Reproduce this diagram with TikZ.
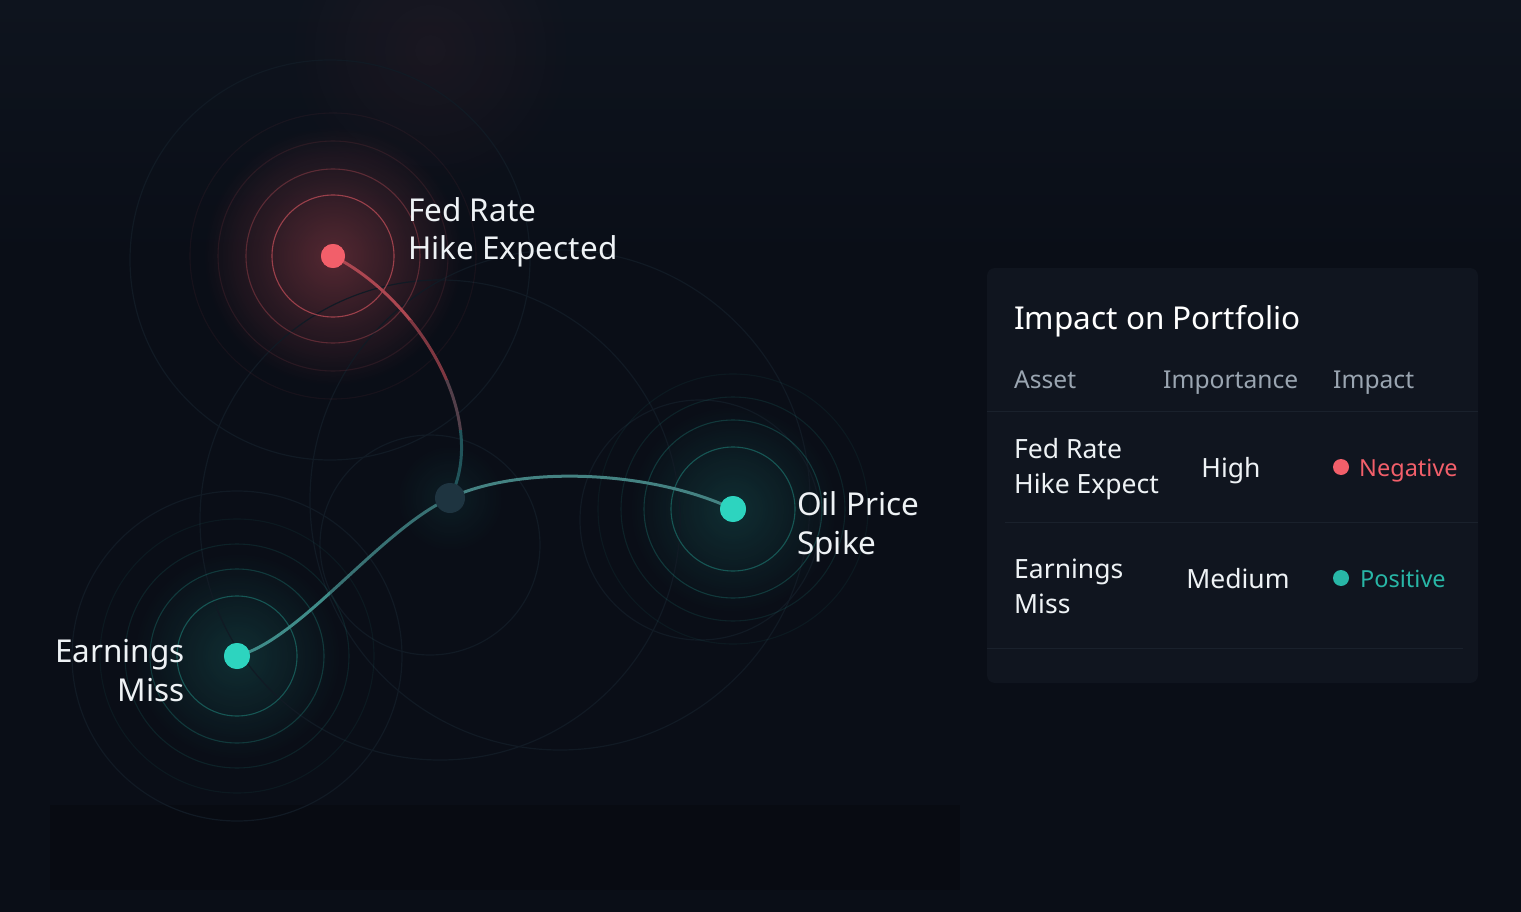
\documentclass[tikz,border=0pt]{standalone}
\usepackage{fontspec}
\setmainfont{Noto Sans}
\usetikzlibrary{fadings}
\definecolor{bg}{HTML}{0A0E17}
\definecolor{bgtop}{HTML}{0E141E}
\definecolor{panel}{HTML}{10151F}
\definecolor{divider}{HTML}{1A212C}
\definecolor{redc}{HTML}{F25F6A}
\definecolor{tealc}{HTML}{2DD4BF}
\definecolor{hubc}{HTML}{1E3440}
\definecolor{txt}{HTML}{EEF2F5}
\definecolor{hdr}{HTML}{9AA5B1}
\definecolor{faint}{HTML}{111A24}
\tikzfading[name=glowfade, inner color=transparent!0, outer color=transparent!100]
\tikzset{
  dotnode/.style={circle, inner sep=0pt, minimum size=#1},
  lbl/.style={text=txt, inner sep=0pt, font=\fontsize{31.5}{38.5}\selectfont},
  hdrtext/.style={text=hdr, inner sep=0pt, anchor=base west, font=\fontsize{24.6}{30}\selectfont},
  celltext/.style={text=txt, inner sep=0pt, font=\fontsize{26.5}{35}\selectfont},
  ring/.style={line width=1.1pt},
  link/.style={line width=3pt, line cap=round},
}
\begin{document}
\begin{tikzpicture}[x=1pt,y=-1pt]
\useasboundingbox (0,0) rectangle (1521,912);
\fill[bg] (0,0) rectangle (1521,912);
% subtle background regions
\shade[top color=bgtop, bottom color=bg] (0,0) rectangle (1521,260);
\fill[bg!80!black] (50,805) rectangle (960,890);
% faint top red haze
\fill[redc, fill opacity=0.06, path fading=glowfade] (430,50) circle (150);

% glows
\fill[redc, fill opacity=0.32, path fading=glowfade] (333,256) circle (130);
\fill[tealc, fill opacity=0.16, path fading=glowfade] (733,509) circle (105);
\fill[tealc, fill opacity=0.16, path fading=glowfade] (237,656) circle (105);
\fill[tealc, fill opacity=0.08, path fading=glowfade] (450,498) circle (55);

% big faint circles
\begin{scope}[faint, line width=1.2pt]
  \draw (440,520) circle (240);
  \draw (430,545) circle (110);
  \draw (700,520) circle (120);
  \draw (560,500) circle (250);
  \draw (330,260) circle (200);
  \draw (237,656) circle (165);
\end{scope}

% rings Fed
\draw[ring, redc, opacity=0.55] (333,256) circle (61);
\draw[ring, redc, opacity=0.28] (333,256) circle (87);
\draw[ring, redc, opacity=0.10] (333,256) circle (115);
\draw[ring, redc, opacity=0.06] (333,256) circle (143);
% rings Oil
\draw[ring, tealc, opacity=0.32] (733,509) circle (62);
\draw[ring, tealc, opacity=0.20] (733,509) circle (89);
\draw[ring, tealc, opacity=0.10] (733,509) circle (112);
\draw[ring, tealc, opacity=0.06] (733,509) circle (135);
% rings Earnings
\draw[ring, tealc, opacity=0.32] (237,656) circle (60);
\draw[ring, tealc, opacity=0.20] (237,656) circle (87);
\draw[ring, tealc, opacity=0.10] (237,656) circle (112);
\draw[ring, tealc, opacity=0.06] (237,656) circle (137);

% nodes
\node[dotnode=24pt, fill=redc] (fed) at (333,256) {};
\node[dotnode=26pt, fill=tealc] (oil) at (733,509) {};
\node[dotnode=26pt, fill=tealc] (earn) at (237,656) {};
\coordinate (hubc) at (450,498);

% connectors
\begin{scope}
  \clip (0,0) rectangle (1521,320);
  \draw[link, redc!70!bg] (fed.center) .. controls (420,300) and (490,420) .. (hubc);
\end{scope}
\begin{scope}
  \clip (0,320) rectangle (1521,380);
  \draw[link, redc!50!bg] (fed.center) .. controls (420,300) and (490,420) .. (hubc);
\end{scope}
\begin{scope}
  \clip (0,380) rectangle (1521,430);
  \draw[link, redc!25!hubc] (fed.center) .. controls (420,300) and (490,420) .. (hubc);
\end{scope}
\begin{scope}
  \clip (0,430) rectangle (1521,912);
  \draw[link, hubc!80!tealc] (fed.center) .. controls (420,300) and (490,420) .. (hubc);
\end{scope}
\draw[link, tealc!35!hubc!85!white] (hubc) .. controls (520,465) and (650,470) .. (oil.center);
\begin{scope}
  \clip (0,0) rectangle (330,912);
  \draw[link, tealc!45!hubc!88!white] (hubc) .. controls (380,530) and (300,640) .. (earn.center);
\end{scope}
\begin{scope}
  \clip (330,0) rectangle (1521,912);
  \draw[link, tealc!28!hubc!90!white] (hubc) .. controls (380,530) and (300,640) .. (earn.center);
\end{scope}
\node[dotnode=30pt, fill=hubc] (hub) at (hubc) {};
\node[dotnode=24pt, fill=redc] at (fed) {};
\node[dotnode=26pt, fill=tealc] at (oil) {};
\node[dotnode=26pt, fill=tealc] at (earn) {};

% labels (base anchor = last line baseline)
\node[lbl, anchor=base west, align=left] (fedlbl) at (408,260) {Fed Rate\\Hike Expected};
\node[lbl, anchor=base west, align=left] (oillbl) at (797,554) {Oil Price\\Spike};
\node[lbl, anchor=base east, align=right] (earnlbl) at (185,701) {Earnings\\Miss};

% panel
\fill[panel, rounded corners=8pt] (987,268) rectangle (1478,683);
\node[text=white, inner sep=0pt, anchor=base west, font=\fontsize{31.5}{38}\selectfont] (title) at (1014,329) {Impact on Portfolio};
\node[hdrtext] (hasset) at (1014,388) {Asset};
\node[hdrtext] (himp) at (1163,388) {Importance};
\node[hdrtext] (himpact) at (1333,388) {Impact};
\draw[divider, line width=1pt] (987,411) -- (1478,411);
\draw[divider, line width=1pt] (1005,522) -- (1478,522);
\draw[divider, line width=1pt] (987,648) -- (1463,648);

\node[celltext, anchor=base west, align=left] (r1a) at (1014,493) {Fed Rate\\Hike Expect};
\node[celltext, anchor=base] (r1b) at (1231,477) {High};
\node[dotnode=16pt, fill=redc] (r1dot) at (1341,467) {};
\node[celltext, text=redc, anchor=base west, font=\fontsize{23.5}{30}\selectfont] (r1c) at (1359,476) {Negative};

\node[celltext, anchor=base west, align=left] (r2a) at (1014,613) {Earnings\\Miss};
\node[celltext, anchor=base] (r2b) at (1238,588) {Medium};
\node[dotnode=16pt, fill=tealc!85!bg] (r2dot) at (1341,578) {};
\node[celltext, text=tealc!85!bg, anchor=base west, font=\fontsize{23.5}{30}\selectfont] (r2c) at (1360,587) {Positive};
\end{tikzpicture}
\end{document}
